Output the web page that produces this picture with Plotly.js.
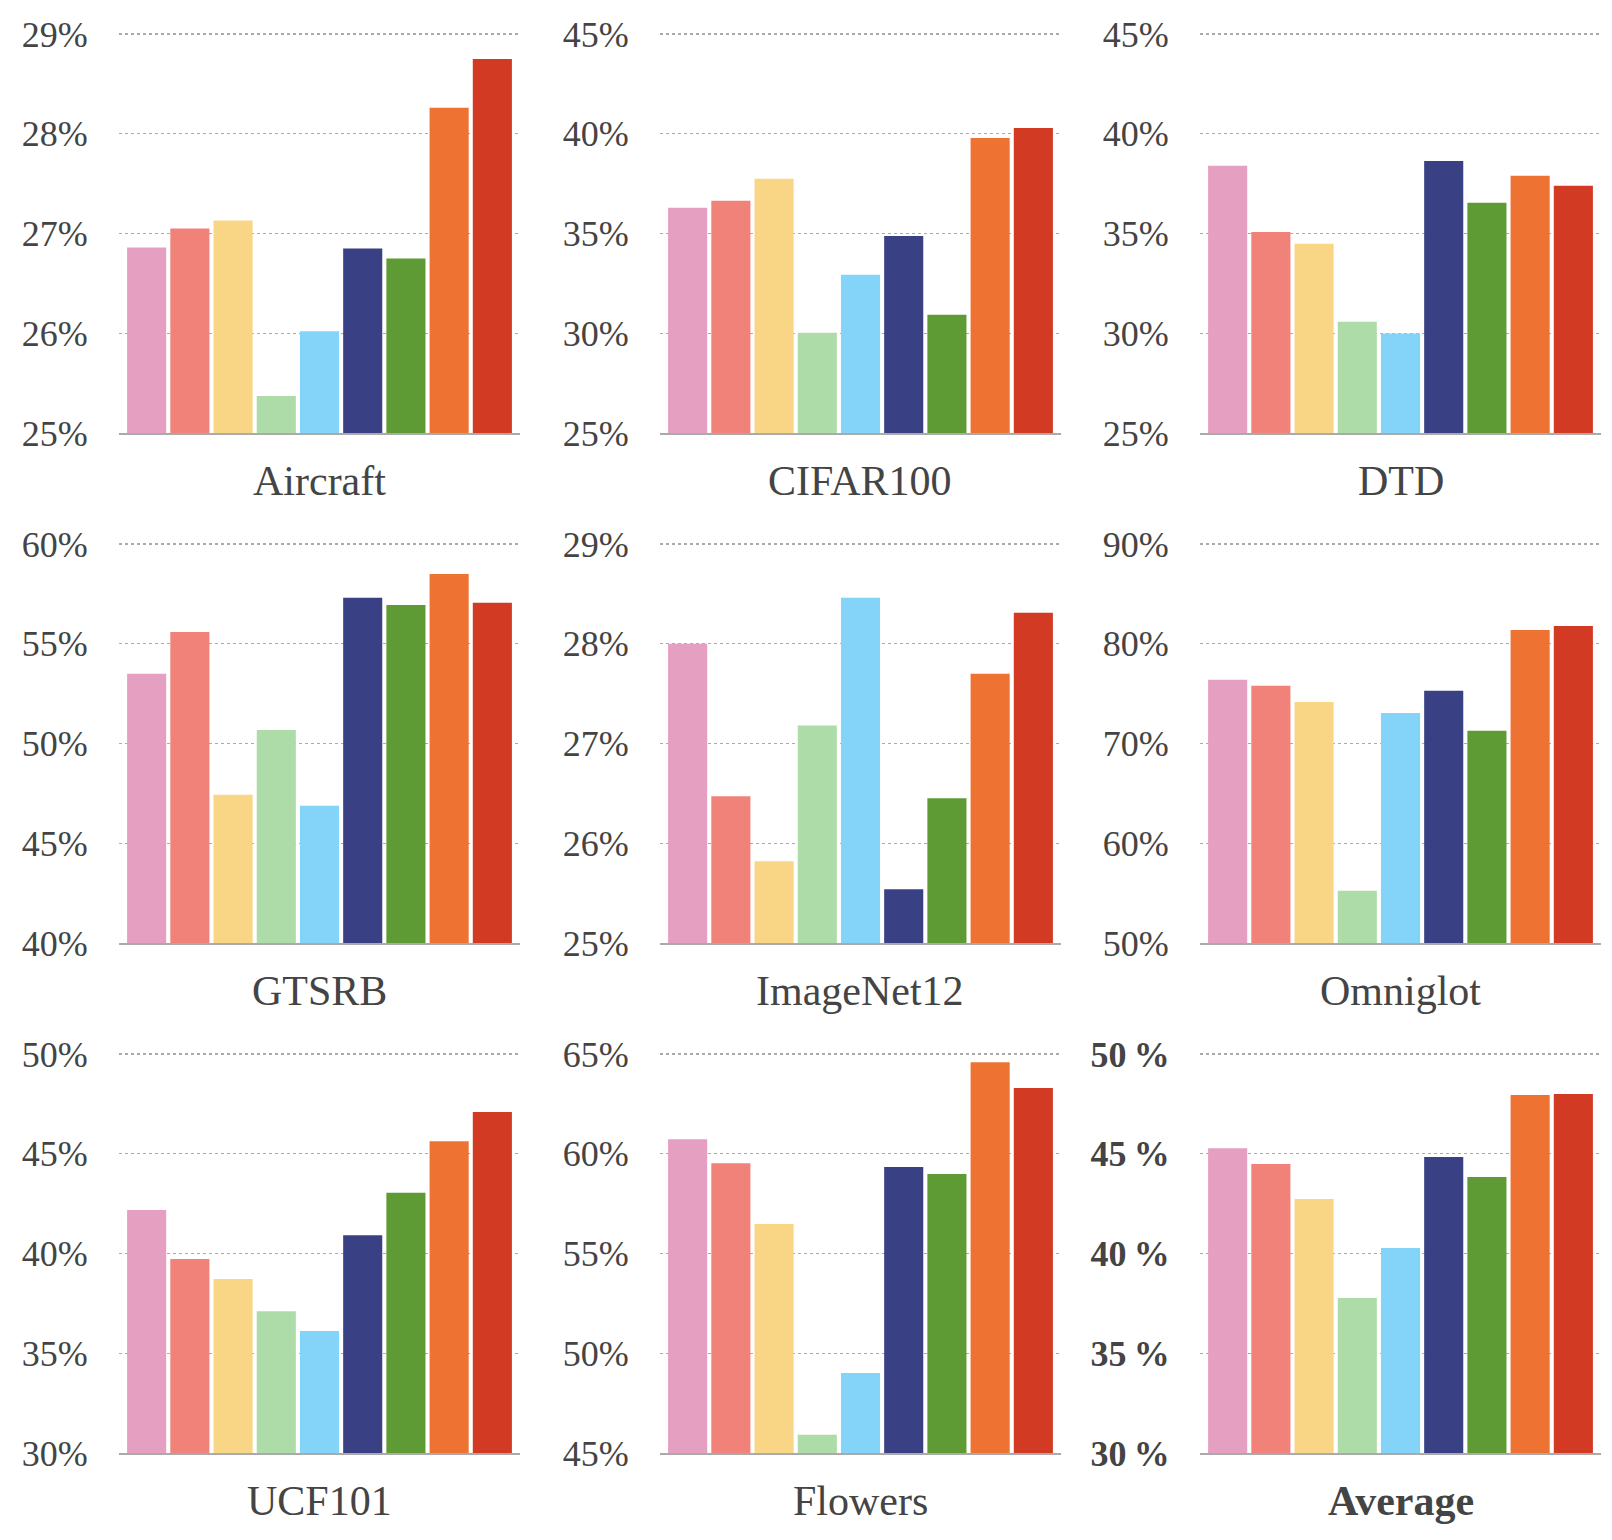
<!DOCTYPE html>
<html>
<head>
<meta charset="utf-8">
<script src="https://cdn.plot.ly/plotly-3.0.1.min.js"></script>
<style>
  html, body { margin: 0; padding: 0; background: white; }
  #chart { width: 1612px; height: 1540px; }
</style>
</head>
<body>
<div id="chart"></div>
<script>
// nine methods, same order in every panel
var methods = ['m1', 'm2', 'm3', 'm4', 'm5', 'm6', 'm7', 'm8', 'm9'];

var datasets = ['Aircraft', 'CIFAR100', 'DTD', 'GTSRB', 'ImageNet12', 'Omniglot', 'UCF101', 'Flowers', 'Average'];

var aircraft   = [26.86, 27.05, 27.13, 25.37, 26.02, 26.85, 26.75, 28.26, 28.75];
var cifar100   = [36.29, 36.64, 37.74, 30.02, 32.93, 34.88, 30.93, 39.79, 40.29];
var dtd        = [38.39, 35.08, 34.48, 30.58, 29.99, 38.64, 36.54, 37.89, 37.39];
var gtsrb      = [53.49, 55.59, 47.43, 50.68, 46.88, 57.30, 56.94, 58.50, 57.05];
var imagenet12 = [28.00, 26.47, 25.82, 27.18, 28.46, 25.54, 26.45, 27.70, 28.31];
var omniglot   = [76.38, 75.78, 74.17, 55.24, 73.07, 75.28, 71.27, 81.39, 81.79];
var ucf101     = [42.18, 39.72, 38.72, 37.11, 36.11, 40.92, 43.04, 45.63, 47.09];
var flowers    = [60.73, 59.53, 56.48, 45.91, 49.01, 59.34, 58.99, 64.59, 63.29];
var average    = [45.28, 44.49, 42.73, 37.77, 40.28, 44.84, 43.83, 47.94, 48.00];

// y tick values per panel
var ticksAircraft = [25, 26, 27, 28, 29];
var ticksCifar    = [25, 30, 35, 40, 45];
var ticksDtd      = [25, 30, 35, 40, 45];
var ticksGtsrb    = [40, 45, 50, 55, 60];
var ticksImagenet = [25, 26, 27, 28, 29];
var ticksOmniglot = [50, 60, 70, 80, 90];
var ticksUcf      = [30, 35, 40, 45, 50];
var ticksFlowers  = [45, 50, 55, 60, 65];
var ticksAverage  = [30, 35, 40, 45, 50];

var values = [aircraft, cifar100, dtd, gtsrb, imagenet12, omniglot, ucf101, flowers, average];
var ticks = [ticksAircraft, ticksCifar, ticksDtd, ticksGtsrb, ticksImagenet, ticksOmniglot, ticksUcf, ticksFlowers, ticksAverage];

var colors = ['#E59FC0', '#F0827A', '#F8D686', '#AEDCA9', '#84D3F8', '#3A4084', '#5E9B34', '#EE7332', '#D23A23'];

var W = 1612, H = 1540;
var colLeft = [119, 660, 1200];
var colWidth = 401;
var rowTop = [34, 544, 1054];
var rowHeight = 399;
var topPad = 3; // px above the top gridline so it is still drawn

var serif = '"Liberation Serif", "Times New Roman", "DejaVu Serif", serif';
var textColor = '#444444';

var data = [];
var layout = {
  width: W,
  height: H,
  margin: { t: 0, r: 0, b: 0, l: 0 },
  paper_bgcolor: 'white',
  plot_bgcolor: 'white',
  showlegend: false,
  bargap: 0.095,
  font: { family: serif, color: textColor },
  annotations: []
};

datasets.forEach(function(name, i) {
  var row = Math.floor(i / 3), col = i % 3;
  var n = i + 1;
  var xa = 'x' + (n === 1 ? '' : n);
  var ya = 'y' + (n === 1 ? '' : n);
  var bold = name === 'Average';

  data.push({
    type: 'bar',
    x: methods.map(function(m, k) { return k; }),
    y: values[i],
    xaxis: xa,
    yaxis: ya,
    marker: { color: colors, line: { width: 0 } },
    hoverinfo: 'y'
  });

  var x0 = colLeft[col] / W, x1 = (colLeft[col] + colWidth) / W;
  var y1 = 1 - (rowTop[row] - topPad) / H, y0 = 1 - (rowTop[row] + rowHeight) / H;
  var t = ticks[i];
  var lo = t[0], hi = t[t.length - 1];
  var hiPad = hi + (hi - lo) * topPad / rowHeight;

  layout['xaxis' + (n === 1 ? '' : n)] = {
    domain: [x0, x1],
    anchor: ya,
    range: [-0.64, 8.64],
    showticklabels: false,
    showgrid: false,
    zeroline: false,
    showline: true,
    linecolor: '#aaaaaa',
    linewidth: 2,
    ticks: '',
    fixedrange: true
  };

  layout['yaxis' + (n === 1 ? '' : n)] = {
    domain: [y0, y1],
    anchor: xa,
    range: [lo, hiPad],
    tickvals: t,
    ticktext: t.map(function(v) { return bold ? v + '\u2009%' : v + '%'; }),
    tickfont: { family: serif, size: 36, color: textColor, weight: bold ? 'bold' : 'normal' },
    ticks: 'outside',
    ticklen: bold ? 22 : 23,
    tickcolor: 'rgba(0,0,0,0)',
    showgrid: true,
    gridcolor: '#aaaaaa',
    gridwidth: 1.3,
    griddash: 'dot',
    zeroline: false,
    showline: false,
    fixedrange: true
  };

  layout.annotations.push({
    text: bold ? '<b>' + name + '</b>' : name,
    xref: 'paper',
    yref: 'paper',
    x: (x0 + x1) / 2,
    y: y0,
    yshift: -48,
    xanchor: 'center',
    yanchor: 'middle',
    showarrow: false,
    font: { family: serif, size: 42, color: textColor }
  });
});

Plotly.newPlot('chart', data, layout, { displayModeBar: false, staticPlot: true });
</script>
</body>
</html>
